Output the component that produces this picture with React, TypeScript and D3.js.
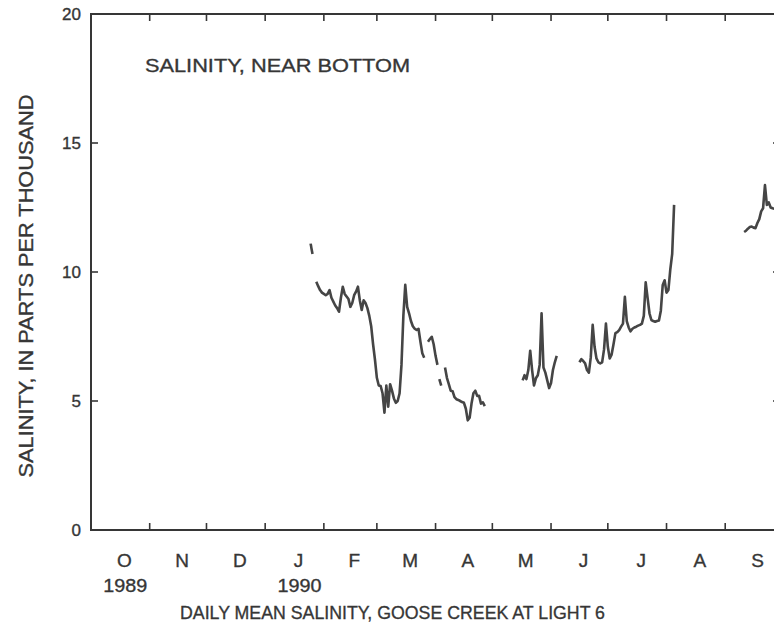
import React from "react";
import * as d3 from "d3";

// ---- data (daily mean salinity, ppt) ----
const monthLabels = ["O", "N", "D", "J", "F", "M", "A", "M", "J", "J", "A", "S"];
const yearLabels = [
  { date: "1989-10-01", text: "1989" },
  { date: "1990-01-01", text: "1990" },
];
const yTicks = [0, 5, 10, 15, 20];

const seg1Start = "1990-01-25";
const seg1 = [11.1, 10.7];
const seg2Start = "1990-01-28";
const seg2 = [
  9.62, 9.45, 9.3, 9.2, 9.15, 9.1, 9.15, 9.3, 9.0, 8.85, 8.7, 8.6, 8.46, 9.0, 9.43, 9.15, 9.05, 8.95,
  8.65, 8.8, 9.1, 9.24, 9.43, 8.9, 8.53, 8.9, 8.8, 8.6, 8.3, 7.9, 7.2, 6.6, 5.9, 5.6, 5.58, 5.3, 4.55,
  5.6, 4.78, 5.65, 5.4, 5.1, 4.93, 5.0, 5.3, 6.4, 8.3, 9.5, 8.65, 8.4, 8.1, 7.9, 7.8, 7.75, 7.8, 7.3,
  6.85, 6.68,
];
const seg3Start = "1990-03-28";
const seg3 = [7.3, 7.4, 7.49, 7.2, 6.75, 6.4];
const seg4Start = "1990-04-03";
const seg4 = [5.85, 5.6];
const seg5Start = "1990-04-06";
const seg5 = [
  6.3, 5.9, 5.65, 5.4, 5.38, 5.15, 5.07, 5.04, 5.0, 4.96, 4.93, 4.7, 4.25, 4.35, 4.9, 5.3, 5.4, 5.2,
  5.2, 4.9, 4.95, 4.8,
];
const seg6Start = "1990-05-17";
const seg6 = [5.8, 6.0, 5.85, 6.2, 6.95, 6.2, 5.6, 5.88, 6.0, 6.4, 8.4, 6.3, 6.1, 5.8, 5.5, 5.7, 6.2, 6.5, 6.75];
const seg7Start = "1990-06-16";
const seg7 = [
  6.5, 6.62, 6.55, 6.46, 6.2, 6.1, 6.7, 7.95, 7.1, 6.65, 6.5, 6.46, 6.5, 7.0, 8.0, 7.1, 6.65, 6.8, 7.2,
  7.63, 7.67, 7.75, 7.88, 8.0, 9.04, 8.1, 7.85, 7.7, 7.8, 7.85, 7.88, 7.92, 7.95, 8.0, 8.3, 9.6, 9.0,
  8.4, 8.14, 8.1, 8.07, 8.1, 8.12, 8.5, 9.5, 9.68, 9.2, 9.3, 10.1, 10.7, 12.6,
];
const seg8Start = "1990-09-11";
const seg8 = [
  11.55, 11.6, 11.68, 11.74, 11.76, 11.72, 11.7, 11.9, 12.05, 12.35, 12.47, 13.37, 12.6, 12.7, 12.5,
  12.47, 12.45, 12.4, 12.4,
];

const segments: [string, number[]][] = [
  [seg1Start, seg1],
  [seg2Start, seg2],
  [seg3Start, seg3],
  [seg4Start, seg4],
  [seg5Start, seg5],
  [seg6Start, seg6],
  [seg7Start, seg7],
  [seg8Start, seg8],
];

const W = 774;
const H = 630;
const INK = "#363636";

export default function App() {
  const parse = d3.utcParse("%Y-%m-%d");
  const t0 = parse("1989-10-01")!;
  const t1 = parse("1990-10-01")!;
  const x = d3.scaleUtc().domain([t0, t1]).range([91, 782]);
  const y = d3.scaleLinear().domain([0, 20]).range([530, 14]);

  const months = d3.utcMonth.range(t0, t1);
  const monthBounds = d3.utcMonth.range(d3.utcMonth.offset(t0, 1), t1);

  const line = d3
    .line<{ d: Date; v: number }>()
    .x((p) => x(p.d))
    .y((p) => y(p.v));

  const paths = segments.map(([start, vals]) => {
    const s = parse(start)!;
    const pts = vals.map((v, i) => ({ d: d3.utcDay.offset(s, i), v }));
    return line(pts) || "";
  });

  const [x0, x1] = x.range();
  const [yb, yt] = y.range();
  const txt = { fill: INK, stroke: INK, strokeWidth: 0.35 };

  return (
    <svg
      width={W}
      height={H}
      style={{ position: "absolute", left: 0, top: 0, background: "#fff" }}
      fontFamily="'Liberation Sans', Arial, sans-serif"
    >
      <rect x={0} y={0} width={W} height={H} fill="#fff" />
      {/* frame */}
      <rect x={x0} y={yt} width={x1 - x0} height={yb - yt} fill="none" stroke={INK} strokeWidth={2} />
      {/* month ticks top & bottom */}
      {monthBounds.map((m, i) => (
        <g key={i} stroke={INK} strokeWidth={1.6}>
          <line x1={x(m)} x2={x(m)} y1={yb} y2={yb - 7} />
          <line x1={x(m)} x2={x(m)} y1={yt} y2={yt + 7} />
        </g>
      ))}
      {/* y ticks left & right */}
      {yTicks.slice(1, -1).map((v) => (
        <g key={v} stroke={INK} strokeWidth={1.6}>
          <line x1={x0} x2={x0 + 7} y1={y(v)} y2={y(v)} />
          <line x1={x1} x2={x1 - 9} y1={y(v)} y2={y(v)} />
        </g>
      ))}
      {/* y tick labels */}
      {yTicks.map((v) => (
        <text key={v} x={81} y={y(v)} dy="0.36em" textAnchor="end" fontSize={17} {...txt}>
          {v}
        </text>
      ))}
      {/* month labels */}
      {months.map((m, i) => {
        const cx = (x(m) + x(d3.utcMonth.offset(m, 1))) / 2 + 4;
        return (
          <text key={i} x={cx} y={560} dy="0.36em" textAnchor="middle" fontSize={19} {...txt}>
            {monthLabels[i]}
          </text>
        );
      })}
      {yearLabels.map((yl, i) => {
        const m = parse(yl.date)!;
        const cx = (x(m) + x(d3.utcMonth.offset(m, 1))) / 2 + 5;
        return (
          <text
            key={i}
            x={cx}
            y={585}
            dy="0.36em"
            textAnchor="middle"
            fontSize={19}
            textLength={44}
            lengthAdjust="spacingAndGlyphs"
            {...txt}
          >
            {yl.text}
          </text>
        );
      })}
      {/* titles */}
      <text
        x={180}
        y={612}
        dy="0.36em"
        fontSize={19}
        textLength={425}
        lengthAdjust="spacingAndGlyphs"
        {...txt}
      >
        DAILY MEAN SALINITY, GOOSE CREEK AT LIGHT 6
      </text>
      <text
        transform="translate(26,286) rotate(-90)"
        textAnchor="middle"
        dy="0.36em"
        fontSize={20}
        textLength={383}
        lengthAdjust="spacingAndGlyphs"
        {...txt}
      >
        SALINITY, IN PARTS PER THOUSAND
      </text>
      <text
        x={145}
        y={65}
        dy="0.36em"
        fontSize={19}
        textLength={265}
        lengthAdjust="spacingAndGlyphs"
        {...txt}
      >
        SALINITY, NEAR BOTTOM
      </text>
      {/* data */}
      {paths.map((p, i) => (
        <path key={i} d={p} fill="none" stroke="#454545" strokeWidth={2.6} strokeLinejoin="round" />
      ))}
    </svg>
  );
}
